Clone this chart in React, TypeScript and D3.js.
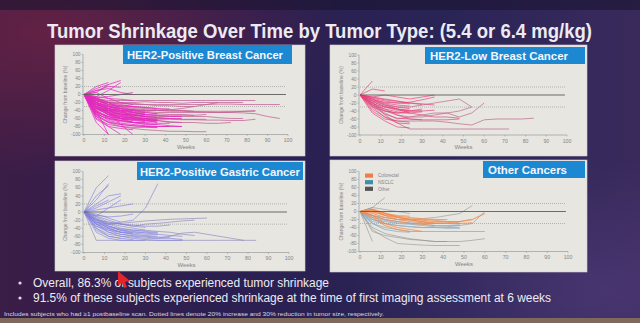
import React from 'react';
import * as d3 from 'd3';

// Values are % change from baseline, sampled every 6 weeks starting at week 0
const WEEK_STEP = 6;
const yTicks = [100, 80, 60, 40, 20, 0, -20, -40, -60, -80, -100];
const xTicks = [0, 10, 20, 30, 40, 50, 60, 70, 80, 90, 100];
const refDotted = [20, -30];

const panelTitles = ['HER2-Positive Breast Cancer', 'HER2-Low Breast Cancer', 'HER2-Positive Gastric Cancer', 'Other Cancers'];
const legendLabels = ['Colorectal', 'NSCLC', 'Other'];

const her2PosBreast: number[][] = [
  [0, -35, -50, -55, -58, -60, -62, -62, -63, -63, -64, -64, -65, -65, -62],
  [0, -20, -30, -35, -38, -40, -40, -42, -42, -43, -44, -45, -45, -46, -48, -55, -60],
  [0, -15, -20, -22, -25, -25, -25, -25, -25, -25, -25, -24, -24, -25, -25, -25, -25],
  [0, -10, -15, -15, -15, -15, -15, -15, -15, -15, -15, -15, -15, -15, -15],
  [0, -25, -35, -40, -40, -42, -45, -45, -45, -45, -45, -45, -44, -42, -40],
  [0, -30, -45, -50, -50, -52, -52, -52, -52, -52, -50],
  [0, -50, -70, -80, -85, -88, -90, -92, -92, -93, -93],
  [0, -40, -55, -60, -62, -65, -65, -68, -70],
  [0, -45, -65, -72, -75, -78, -80, -80, -80],
  [0, -10, -20, -25, -30, -32, -35],
  [0, -20, -30, -35, -38, -40, -40, -38, -35, -30, -25, -20],
  [0, -30, -40, -45, -50, -55, -55, -55, -55, -55, -55, -58, -60, -60],
  [0, -60, -75, -80, -82, -82, -83],
  [0, -55, -80, -100],
  [0, -70, -100],
  [0, -40, -100],
  [0, -20, -45, -75, -100],
  [0, 20, 30],
  [0, 15, 25, 35],
  [0, 10, 20, 18],
  [0, -5, 10, 30],
  [0, 5, 25],
  [0, -25, -35, -40, -45, -48],
  [0, -35, -50, -55, -58, -60, -62],
  [0, -15, -25, -28, -30],
  [0, -30, -42, -48, -50, -55, -58, -60],
  [0, -50, -60, -65, -70, -70, -72, -72],
  [0, -20, -35, -40, -42, -45],
  [0, -10, -18, -20, -22, -25, -28, -28, -30, -30],
  [0, -45, -55, -60, -62],
  [0, -25, -40, -50, -55, -60, -65, -70, -70, -70, -72, -72, -70],
  [0, -35, -45, -50, -52, -55],
  [0, -5, -10, -12, -15],
  [0, -15, -25, -30, -35, -38, -40, -40, -40, -42, -42, -42, -42, -42, -42],
  [0, -55, -70, -75, -78, -80, -80, -80],
  [0, -30, -50, -60, -65, -68],
  [0, -40, -60, -65, -70, -75, -75],
  [0, -20, -28, -30, -32, -35, -38, -38, -40, -42],
  [0, -8, -5, 0, 5],
  [0, -12, -20, -22, -20, -18, -20, -20, -22, -20, -20, -20, -20, -20],
  [0, -30, -38, -42, -45, -45, -48, -50, -50, -52],
  [0, -62, -80, -85, -88],
  [0, 10, 15, 5, 0],
  [0, -25, -32, -35],
  [0, -38, -48, -52, -55, -57, -60, -60, -62, -62, -62],
  [0, -28, -45, -55, -60, -62, -65],
  [0, -18, -35, -45, -50, -55],
  [0, -42, -58, -65, -68],
  [0, -22, -38, -48, -52, -55, -58, -60, -60],
  [0, -33, -52, -58, -62, -63, -65],
  [0, -12, -28, -35, -40, -45, -48],
  [0, -48, -62, -68, -70, -72],
  [0, -26, -42, -50, -55],
  [0, -16, -22, -28, -30, -33, -35, -36],
  [0, -36, -40, -42, -45, -50, -52, -55, -55],
  [0, 5, -10, -20, -25],
  [0, -8, -20, -35, -45, -50],
  [0, -52, -68, -75, -78, -80, -82],
  [0, -32, -45, -60, -70, -72, -75, -78, -80],
  [0, -20, -30, -40, -55, -65, -70],
  [0, -24, -36, -44, -48, -50, -52],
  [0, -14, -30, -38, -42],
  [0, -44, -56, -62, -64, -66, -68],
  [0, -30, -48, -56, -60, -64],
  [0, -20, -40, -52, -58, -60, -62],
  [0, -10, -25, -32, -38, -42],
];

const her2LowBreast: number[][] = [
  [0, -20, -50, -70, -85, -85, -85, -85, -85, -85, -85, -85, -85],
  [0, -30, -55, -65, -65, -65, -65, -68, -72, -75, -62, -60, -60, -60, -58],
  [0, -15, -25, -30, -30, -25, -20, -15, -10, -30],
  [0, -20, -40, -50, -55, -55, -50, -45, -55, -45, -20],
  [0, -25, -45, -60, -55, -50, -45, -45, -40, -30],
  [0, -40, -60, -65, -68],
  [0, -35, -55, -70, -72],
  [0, -25, -40, -45, -40, -35],
  [0, -10, -20, -25, -28],
  [0, -5, -10, -15, -20, -22, -25],
  [0, -15, -30, -35, -40, -40, -38],
  [0, -20, -35, -42, -45],
  [0, -8, -15, -20, -18, -12, -5],
  [0, -30, -40, -45, -45, -42],
  [0, -12, -18, -20, -22],
  [0, -22, -30, -38, -40, -40],
  [0, -18, -28, -35, -38],
  [0, 35],
  [0, 15, 10],
  [0, -5, 0, -5, -10, -5, 0],
  [0, -45, -65, -80, -82],
  [0, -28, -48, -58, -60, -62],
  [0, -10, -25, -35, -45, -50, -55, -55, -58],
  [0, -25, -35, -50, -60, -62, -62, -62, -60],
  [0, -6, -12, -16, -20, -24],
  [0, -14, -22, -30, -34],
];

const her2PosGastric: number[][] = [
  [0, 60, 90],
  [0, 30, 70],
  [0, 20, 40, 45],
  [0, 10, 25, 40],
  [0, -10, 10, 30],
  [0, 15, 30],
  [0, 40, 65],
  [0, -20, -30, -25, -20, 10, 70],
  [0, -70, -70, -70, -70, -70, -70, -70, -70, -70, -70, -70, -70, -70, -70],
  [0, -40, -55, -60, -62, -65, -65, -60, -52, -50, -55, -60, -65, -70],
  [0, -25, -30, -28, -25, -22, -20, -18, -17, -16, -15],
  [0, -30, -45, -55, -60, -62, -65, -65, -68],
  [0, -35, -50, -60, -65, -68, -70, -70, -70],
  [0, -20, -35, -45, -50, -50, -52],
  [0, -15, -30, -40, -45, -45],
  [0, -25, -40, -50, -55],
  [0, -30, -42, -50, -55, -58, -60],
  [0, -10, -20, -30, -35, -38],
  [0, -40, -60, -65, -68],
  [0, -20, -25, -30, -32, -35, -35, -32],
  [0, -45, -60, -65],
  [0, -5, -15, -25],
  [0, -30, -50, -55, -58, -60, -62, -62],
  [0, -18, -28, -35, -40, -45, -48, -50, -55, -58],
  [0, -35, -45, -50, -52, -55, -55, -58, -60],
  [0, -25, -35, -42, -45, -48, -50],
  [0, -12, -25, -30, -35, -30, -28, -25, -22, -20],
  [0, 5, 10, 15, 20],
  [0, -50, -65, -70, -70, -70],
  [0, -22, -40, -50],
  [0, -8, -12, -10, -5],
  [0, -28, -38, -44, -48, -52, -55],
  [0, -16, -34, -46, -52],
];

const colorectal: number[][] = [
  [0, 5, -5, -15, -20, -22, -25, -25, -25, -20, -5],
  [0, 0, -10, -20, -25, -28, -30, -30, -30, -28],
  [0, -10, -30, -40, -45, -50],
  [0, -5, -15, -20, -22, -25, -28, -28, -25, -20],
  [0, 5, -10, -15, -18, -20, -22, -25, -28],
  [0, -2, -8, -12, -15, -18, -20, -20],
  [0, -15, -35, -45, -50],
  [0, 3, -5, -10, -12],
  [0, -10, -20, -25, -30, -32, -35, -35, -35],
  [0, 6, -4, -14, -20, -26, -30],
];

const nsclc: number[][] = [
  [0, -20, -25, -30, -32, -35, -38, -40, -40],
  [0, -25, -30, -35, -38, -40, -40, -42, -42],
  [0, -15, -22, -28, -30, -32, -35],
  [0, -10, -20, -25, -28, -30, -30, -30, -32],
  [0, -30, -45, -50, -52],
];

const otherTumors: number[][] = [
  [0, -75],
  [0, -45, -65, -80, -82, -84, -85, -85, -85],
  [0, -40, -55, -62, -68, -72, -75, -75, -75, -72, -68],
  [0, -30, -40, -45, -50, -50, -50, -50, -50, -50, -50],
  [0, 10, 35],
  [0, -10, -15, -20, -20, -18, -15, -10, -5, 15],
  [0, -20, -30, -35, -38, -40, -40, -38, -35, -30, 0],
  [0, -50, -60, -65, -70, -72, -75, -75],
  [0, 10, 5, 0, -5],
];

type Series = { data: number[][]; color: string; longColor?: string; width: number; opacity: number };

type PanelProps = {
  box: [number, number, number, number];
  banner: [number, number, number, number];
  title: string;
  titleX: number;
  titleY: number;
  titleW: number;
  xr: [number, number];
  yr: [number, number];
  series: Series[];
  legend?: { label: string; color: string }[];
};

const FONT = '"Liberation Sans", Arial, Helvetica, sans-serif';

function Panel({ box, banner, title, titleX, titleY, titleW, xr, yr, series, legend }: PanelProps) {
  const x = d3.scaleLinear().domain([0, 100]).range(xr);
  const y = d3.scaleLinear().domain([-100, 100]).range([yr[1], yr[0]]);
  const line = d3
    .line<number>()
    .x((_, i) => x(i * WEEK_STEP))
    .y((d) => y(d));
  const axisCol = '#8d8d8d';
  const midY = (yr[0] + yr[1]) / 2;
  return (
    <g>
      <rect x={box[0]} y={box[1]} width={box[2]} height={box[3]} fill="#e7e6e1" stroke="#cfcfd6" strokeWidth={0.6} />
      <rect x={banner[0]} y={banner[1]} width={banner[2]} height={banner[3]} fill="#1c88d2" />
      <text
        x={titleX}
        y={titleY}
        fill="#f4f6fb"
        fontFamily={FONT}
        fontWeight="bold"
        fontSize={11.5}
        textLength={titleW}
        lengthAdjust="spacingAndGlyphs"
      >
        {title}
      </text>
      {refDotted.map((v) => (
        <line key={v} x1={x(0)} x2={x(99)} y1={y(v)} y2={y(v)} stroke="#8a8a8a" strokeWidth={0.7} strokeDasharray="0.8 1.2" />
      ))}
      {series.map((s, si) =>
        s.data.map((d, i) => (
          <path
            key={si + '-' + i}
            d={line(d) || ''}
            fill="none"
            stroke={s.longColor && d.length > 9 ? s.longColor : s.color}
            strokeWidth={s.width}
            strokeOpacity={s.opacity}
          />
        ))
      )}
      <line x1={x(0)} x2={x(99)} y1={y(0)} y2={y(0)} stroke="#5c5c5c" strokeWidth={0.9} />
      <line x1={x(0) - 1} x2={x(0) - 1} y1={y(100)} y2={y(-100)} stroke={axisCol} strokeWidth={0.6} />
      <line x1={x(0) - 1} x2={x(100)} y1={y(-100)} y2={y(-100)} stroke={axisCol} strokeWidth={0.6} />
      {yTicks.map((t) => (
        <g key={'y' + t}>
          <line x1={x(0) - 2.5} x2={x(0) - 1} y1={y(t)} y2={y(t)} stroke={axisCol} strokeWidth={0.5} />
          <text x={x(0) - 3.5} y={y(t) + 1.7} textAnchor="end" fontSize={4.8} fill="#858585" fontFamily={FONT}>
            {t}
          </text>
        </g>
      ))}
      {xTicks.map((t) => (
        <g key={'x' + t}>
          <line x1={x(t)} x2={x(t)} y1={y(-100)} y2={y(-100) + 1.5} stroke={axisCol} strokeWidth={0.5} />
          <text x={x(t)} y={y(-100) + 7.5} textAnchor="middle" fontSize={5.2} fill="#858585" fontFamily={FONT}>
            {t}
          </text>
        </g>
      ))}
      <text x={x(50)} y={y(-100) + 14} textAnchor="middle" fontSize={6} fill="#858585" fontFamily={FONT}>
        Weeks
      </text>
      <text
        transform={`translate(${x(0) - 17},${midY}) rotate(-90)`}
        textAnchor="middle"
        fontSize={5}
        fill="#858585"
        fontFamily={FONT}
      >
        Change from baseline (%)
      </text>
      {legend &&
        legend.map((l, i) => (
          <g key={l.label}>
            <rect x={x(0) + 5} y={y(95) + i * 6.6} width={8} height={4.2} fill={l.color} />
            <text x={x(0) + 18} y={y(95) + i * 6.6 + 3.8} fontSize={4.6} fill="#858585" fontFamily={FONT}>
              {l.label}
            </text>
          </g>
        ))}
    </g>
  );
}

export default function App() {
  const W = 640;
  const H = 323;
  return (
    <svg width={W} height={H} style={{ position: 'fixed', left: 0, top: 0 }} xmlns="http://www.w3.org/2000/svg">
      <defs>
        <linearGradient id="bg" x1="0" y1="0" x2="1" y2="0">
          <stop offset="0" stopColor="#3b1d47" />
          <stop offset="0.35" stopColor="#2a1f50" />
          <stop offset="0.7" stopColor="#2a2456" />
          <stop offset="1" stopColor="#3a2a5c" />
        </linearGradient>
        <radialGradient id="glow" cx="0.08" cy="0.1" r="0.45">
          <stop offset="0" stopColor="#6a2244" stopOpacity="0.85" />
          <stop offset="1" stopColor="#6a2244" stopOpacity="0" />
        </radialGradient>
        <radialGradient id="glow2" cx="0.95" cy="0.9" r="0.4">
          <stop offset="0" stopColor="#4e3a78" stopOpacity="0.7" />
          <stop offset="1" stopColor="#4e3a78" stopOpacity="0" />
        </radialGradient>
      </defs>
      <rect width={W} height={H} fill="url(#bg)" />
      <rect width={W} height={H} fill="url(#glow)" />
      <rect width={W} height={H} fill="url(#glow2)" />
      <rect width={W} height={10} fill="#1a1430" opacity={0.6} />
      <rect y={318} width={W} height={5} fill="#7d6a5c" />

      <text x={47} y={38} fill="#eceaf2" fontFamily={FONT} fontWeight="bold" fontSize={20} textLength={545} lengthAdjust="spacingAndGlyphs">
        Tumor Shrinkage Over Time by Tumor Type: (5.4 or 6.4 mg/kg)
      </text>

      <Panel
        box={[55, 45, 250, 111]}
        banner={[123, 45, 169, 19]}
        title={panelTitles[0]}
        titleX={127}
        titleY={59}
        titleW={156}
        xr={[84, 288]}
        yr={[54.5, 134.5]}
        series={[{ data: her2PosBreast, color: '#e526bf', longColor: '#c25a92', width: 0.85, opacity: 0.85 }]}
      />
      <Panel
        box={[330, 45, 257, 111]}
        banner={[425, 47, 160, 17]}
        title={panelTitles[1]}
        titleX={430}
        titleY={59.5}
        titleW={138}
        xr={[360, 567]}
        yr={[55, 135]}
        series={[{ data: her2LowBreast, color: '#e8407c', longColor: '#bd6488', width: 0.8, opacity: 0.85 }]}
      />
      <Panel
        box={[55, 161, 250, 110]}
        banner={[137, 162, 166, 18]}
        title={panelTitles[2]}
        titleX={140}
        titleY={176}
        titleW={160}
        xr={[84, 289]}
        yr={[171.5, 252.5]}
        series={[{ data: her2PosGastric, color: '#7f7fe2', longColor: '#8a86b8', width: 0.8, opacity: 0.8 }]}
      />
      <Panel
        box={[330, 160, 257, 112]}
        banner={[483, 161, 102, 17]}
        title={panelTitles[3]}
        titleX={488}
        titleY={174}
        titleW={79}
        xr={[360, 568]}
        yr={[171.5, 251.5]}
        series={[
          { data: otherTumors, color: '#8c8c8c', width: 0.8, opacity: 0.7 },
          { data: nsclc, color: '#8fb0cc', width: 1.1, opacity: 0.8 },
          { data: colorectal, color: '#f08a4c', width: 1.1, opacity: 0.75 },
        ]}
        legend={[
          { label: legendLabels[0], color: '#ef7d45' },
          { label: legendLabels[1], color: '#3f8fa8' },
          { label: legendLabels[2], color: '#555555' },
        ]}
      />

      <circle cx={20} cy={283} r={1.6} fill="#dcdcea" />
      <circle cx={20} cy={298} r={1.6} fill="#dcdcea" />
      <text x={33} y={287} fill="#ecebf3" fontFamily={FONT} fontSize={12.5} textLength={296} lengthAdjust="spacingAndGlyphs">
        Overall, 86.3% of subjects experienced tumor shrinkage
      </text>
      <text x={33} y={302} fill="#ecebf3" fontFamily={FONT} fontSize={12.5} textLength={518} lengthAdjust="spacingAndGlyphs">
        91.5% of these subjects experienced shrinkage at the time of first imaging assessment at 6 weeks
      </text>
      <text x={4} y={315.5} fill="#d8d6e4" fontFamily={FONT} fontSize={5.8} textLength={380} lengthAdjust="spacingAndGlyphs">
        Includes subjects who had ≥1 postbaseline scan. Dotted lines denote 20% increase and 30% reduction in tumor size, respectively.
      </text>
      <path d="M118,271 L130,281 L125,282 L127,287 L124,288 L122,283 L118,285 Z" fill="#e0262c" />
    </svg>
  );
}
